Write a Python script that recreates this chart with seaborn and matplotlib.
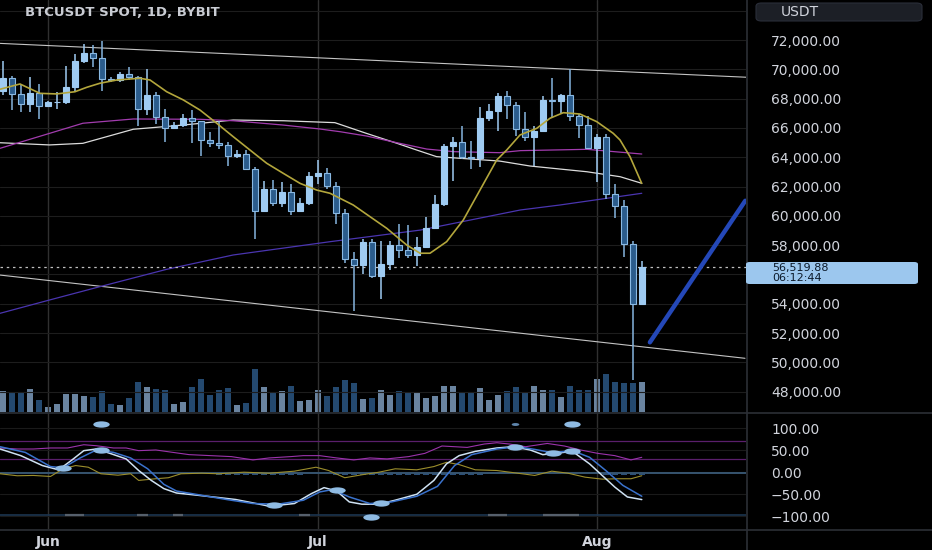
import numpy as np
import pandas as pd
import matplotlib
matplotlib.use("Agg")
import matplotlib.pyplot as plt
import seaborn as sns
from matplotlib.patches import FancyBboxPatch
from matplotlib.lines import Line2D
from matplotlib.path import Path
from matplotlib.transforms import Affine2D
from matplotlib.ticker import FuncFormatter, FixedLocator

# ------------------------------------------------------------------ data
dates = pd.date_range("2024-05-27", "2024-08-06", freq="D")
opens = [68500, 69400, 68300, 67600, 68350,
         67500, 67750, 67760, 68800, 70550, 71100, 70800, 69350, 69300, 69650,
         69500, 67300, 68250, 66750, 66000, 66200, 66650, 66500, 65150, 64950,
         64850, 64100, 64250, 63200, 60300, 61800, 60850, 61650, 60350, 60850,
         62700, 62900, 62050, 60200, 57050, 56650, 58200, 55900, 56700, 58000,
         57700, 57350, 57900, 59200, 60800, 64750, 65050, 64050, 63950, 66650,
         67150, 68150, 67550, 65950, 65400, 65800, 67900, 67850, 68250, 66800,
         66200, 64600, 65350, 61500, 60700, 58100, 54000]
highs = [70600, 69550, 68900, 69500, 69000,
         67850, 68450, 70250, 71050, 71750, 71650, 71950, 69500, 69850, 70150,
         69550, 70000, 68450, 67300, 66400, 66950, 67250, 66500, 65750, 66500,
         65050, 64500, 64500, 63350, 62400, 62450, 62300, 62200, 61200, 63000,
         63800, 63250, 62300, 60500, 57500, 58450, 58450, 58250, 58250, 59450,
         59400, 58550, 59900, 61400, 64900, 65350, 66100, 65100, 67400, 67600,
         68350, 68500, 67800, 67100, 66100, 68200, 69400, 68300, 70000, 66950,
         66800, 65600, 65600, 62200, 61100, 58300, 56900]
lows = [68250, 67200, 67100, 67100, 66600,
        67400, 67300, 67600, 68550, 70400, 70150, 68550, 69150, 69150, 69250,
        66100, 66900, 66300, 65050, 65900, 66050, 65000, 64100, 64700, 64550,
        63400, 63950, 63200, 58400, 60250, 60700, 60600, 60050, 60350, 60750,
        62200, 61850, 59450, 56800, 53500, 56050, 55750, 54300, 56300, 57150,
        57150, 56600, 57800, 59200, 60650, 62400, 63900, 63200, 63300, 66450,
        65800, 66600, 65450, 65100, 63400, 65750, 66650, 67050, 66500, 65300,
        64550, 62300, 61150, 59850, 57200, 48800, 53900]
closes = [69400, 68300, 67600, 68350, 67500,
          67750, 67760, 68800, 70550, 71100, 70800, 69350, 69300, 69650, 69500,
          67300, 68250, 66750, 66000, 66200, 66650, 66500, 65150, 64950, 64850,
          64100, 64250, 63200, 60300, 61800, 60850, 61650, 60350, 60850, 62700,
          62900, 62050, 60200, 57050, 56650, 58200, 55900, 56700, 58000, 57700,
          57350, 57900, 59200, 60800, 64750, 65050, 64050, 63950, 66650, 67150,
          68150, 67550, 65950, 65400, 65800, 67900, 67850, 68250, 66800, 66200,
          64600, 65350, 61500, 60700, 58100, 54000, 56519.88]
volumes = [20.7, 19.3, 20, 22.7, 11.7,
           4.7, 8, 18, 18.3, 16.3, 15.3, 20.7, 7.7, 6.7, 14,
           29.7, 25.3, 23.3, 22, 8.3, 10, 25.3, 33, 17.3, 22.3,
           24, 6.7, 9, 43, 24.7, 19.7, 21, 26, 10.7, 12,
           22, 15.7, 25, 31.7, 28.7, 13, 14, 22, 16.7, 20.7,
           20, 18.7, 13.7, 16.3, 26, 26, 20.3, 18.7, 24, 12.3,
           17.3, 20.7, 24.7, 20.3, 26, 21.7, 22.3, 15, 26.3, 22,
           21.7, 33.3, 38.3, 30, 28.7, 28.7, 30]
price_last = 56519.88
countdown = "06:12:44"

# moving averages (day offset from 1 Jun, price)
ma_fast_day = [-5.31, -3.09, -0.87, 0.99, 3.02, 4.32, 5.8, 7.66, 10.24, 11.36, 13.21, 15.06,
               16.91, 18.77, 20.61, 22.47, 24.32, 26.17, 28.02, 29.88, 31.36, 33.94, 37.66,
               39.88, 41.36, 42.47, 44.32, 46.17, 48.02, 49.88, 50.99, 52.47, 54.32, 55.8,
               57.28, 59.13, 60.99, 62.83, 63.58, 64.69, 65.99]
ma_fast_val = [68640, 69000, 68360, 68320, 68470, 68770, 69050, 69270, 69390, 69270, 68470,
               67910, 67220, 66320, 65400, 64490, 63590, 62900, 62220, 61760, 61540, 60740,
               59150, 58010, 57450, 57450, 58240, 59720, 61760, 63810, 64490, 65520, 65970,
               66660, 67040, 66950, 66430, 65630, 65180, 64040, 62220]
ma_mid_day = [-5.3, 0.2, 3.9, 9.5, 16.9, 20.6, 26.1, 30.2, 32.5, 35.4, 38.8, 42.1, 45.1, 50.2,
              52.5, 59.9, 66.0]
ma_mid_val = [64610, 65630, 66320, 66610, 66590, 66490, 66200, 65930, 65740, 65450, 64990,
              64560, 64380, 64310, 64450, 64540, 64220]
ma_slow_day = [-5.3, 0.2, 3.9, 9.5, 15.1, 20.6, 26.2, 31.9, 35.4, 38.8, 41.0, 43.2, 50.2, 53.6,
               59.9, 63.6, 66.0]
ma_slow_val = [64990, 64840, 64950, 65910, 66200, 66540, 66490, 66360, 65630, 64950, 64490,
               64040, 63740, 63400, 63010, 62670, 62220]
ma_long_day = [-5.3, 0.2, 5.8, 13.2, 20.6, 31.4, 41.4, 52.5, 56.9, 66.0]
ma_long_val = [53350, 54260, 55170, 56350, 57330, 58240, 59030, 60400, 60740, 61540]

# drawn trend lines
trend_upper_day = [-5.31, 77.58]
trend_upper_val = [71770, 69460]
trend_lower_day = [-5.31, 77.47]
trend_lower_val = [55960, 50280]
arrow_day = [66.9, 77.5]
arrow_val = [51370, 61030]

# oscillator pane
wt1_day = [-5.3, -3.0, -0.6, 1.2, 2.6, 4.0, 5.4, 6.9, 8.7, 10.1, 11.5, 12.9, 14.3, 16.7, 19.0,
           20.9, 22.8, 24.6, 27.4, 29.3, 30.7, 32.1, 33.5, 34.9, 36.8, 38.6, 41.0, 42.9, 44.3,
           45.7, 47.5, 49.9, 51.7, 53.6, 55.0, 56.4, 58.3, 60.2, 61.6, 63.0, 64.4, 66.0]
wt1_val = [52.7, 37.6, 15.1, 5.4, 26.4, 48.9, 52.7, 42.8, 30.2, 3.8, -18.7, -37.4, -47.3, -52.5,
           -57.7, -62.2, -69.8, -77.3, -71.2, -48.6, -35.1, -42.8, -67.6, -72.7, -72.7, -63.7,
           -50.2, -18.7, 18.9, 37.6, 47.3, 55.0, 57.9, 50.5, 39.9, 42.8, 47.3, 18.9, -7.4,
           -33.8, -56.3, -62.2]
wt2_day = [-5.3, -2.5, 0.3, 1.7, 3.6, 5.4, 7.3, 9.2, 11.1, 12.9, 14.3, 17.1, 19.9, 22.8, 25.6,
           28.4, 30.2, 31.6, 33.5, 35.8, 38.2, 41.0, 43.3, 45.2, 47.1, 49.9, 52.2, 54.1, 56.0,
           58.3, 60.2, 62.0, 63.9, 66.0]
wt2_val = [57.9, 45.0, 12.8, 9.9, 32.4, 50.5, 45.0, 32.4, 7.7, -27.7, -42.8, -52.5, -62.2,
           -71.2, -72.7, -63.7, -45.0, -39.6, -56.3, -71.2, -67.6, -54.7, -32.2, 15.1, 39.9,
           52.7, 57.9, 51.8, 44.4, 48.9, 33.8, 3.8, -30.0, -54.7]
rsi_day = [-5.3, -3.4, -1.6, 0.3, 2.2, 4.0, 5.4, 7.3, 8.7, 10.1, 12.0, 13.9, 15.7, 18.1, 20.4,
           22.8, 24.6, 27.0, 28.4, 30.2, 32.1, 34.0, 35.8, 37.7, 40.1, 41.9, 43.8, 45.2, 46.6,
           48.5, 49.9, 51.3, 53.1, 55.5, 57.4, 59.2, 61.1, 63.0, 64.8, 66.0]
rsi_val = [55, 52.7, 52.7, 55, 55, 62.4, 60.1, 55, 55, 48.9, 50.5, 45, 39.9, 37.6, 35.4, 27.9,
           32.4, 35.4, 37.6, 37.6, 32.4, 27.9, 32.4, 30.2, 35.4, 42.8, 59.5, 57.9, 56.3, 64.0,
           66.9, 64.0, 57.9, 65.3, 59.5, 50.5, 42.8, 37.6, 27.9, 33.8]
mom_day = [-5.3, -3.4, -1.6, 0.3, 1.7, 3.1, 4.5, 5.9, 7.8, 9.2, 10.1, 12.0, 13.4, 14.8, 17.1,
           19.0, 21.8, 24.6, 27.4, 29.8, 31.2, 33.0, 34.9, 36.8, 38.6, 41.0, 42.9, 44.3, 45.7,
           47.5, 49.9, 52.2, 54.1, 56.0, 57.8, 59.7, 61.6, 63.4, 64.8, 66.0]
mom_val = [-3.6, -8.1, -7.4, -9.7, 7.7, 15.1, 11.3, -3.6, -6.8, -3.6, -18.7, -14.9, -12.6,
           -3.6, -2.3, -3.6, 0.0, -2.3, 2.3, 11.3, 3.8, -12.6, -5.9, 0.0, 7.7, 5.4, 12.8, 22.5,
           17.3, 5.4, 3.8, -2.3, -7.4, 2.3, -2.3, -11.3, -15.8, -14.9, -14.9, -8.1]
hist_day = list(range(19, 29)) + list(range(32, 49)) + list(range(62, 67))
hist_val = [-5] * 10 + [-5] * 17 + [-5] * 5
cross_day = [1.7, 5.9, 25.1, 32.1, 37.0, 51.9, 56.1, 58.2]
cross_val = [9.9, 50.5, -75.0, -40.0, -71.0, 57.9, 44.0, 49.0]
signal_top_day = [5.9, 58.2]
signal_top_small_day = [51.9]
signal_bot_day = [35.9]
floor_dash_start = [1.9, 9.9, 13.9, 27.9, 48.9, 55.0]
floor_dash_end = [4.0, 11.1, 15.0, 29.1, 51.0, 59.0]

month_days = [0, 30, 61]
month_labels = ["Jun", "Jul", "Aug"]
price_ticks = [48000, 50000, 52000, 54000, 58000, 60000, 62000, 64000, 66000, 68000, 70000, 72000]
price_grid_only = [56000, 74000]
osc_ticks = [100, 50, 0, -50, -100]
band_levels = [70, 30]

# ------------------------------------------------------------------ style
sns.set_theme(style="dark", rc={
    "axes.facecolor": "#000000", "figure.facecolor": "#000000",
    "text.color": "#d1d4dc", "xtick.color": "#d1d4dc", "ytick.color": "#d1d4dc",
    "axes.edgecolor": "#000000"})
plt.rcParams["font.family"] = ["DejaVu Sans"]

day = np.array((dates - pd.Timestamp("2024-06-01")).days)
o = np.array(opens, float); c = np.array(closes, float)
h = np.array(highs, float); l = np.array(lows, float)
up = c >= o

W, H = 932, 550
fig = plt.figure(figsize=(W / 100, H / 100), dpi=100)
XL = (-5.31, 77.58)
price_rect = [0, 138 / H, 746 / W, 412 / H]
axv = fig.add_axes(price_rect, zorder=0)
ax = fig.add_axes(price_rect, zorder=1)
axo = fig.add_axes([0, 21 / H, 746 / W, 116 / H], zorder=1)
ax.patch.set_alpha(0)

for a in (ax, axv, axo):
    a.set_xlim(*XL)
    for s in a.spines.values():
        s.set_visible(False)

# volume
axv.set_ylim(0, 412)
axv.bar(day, volumes, width=0.72, color=np.where(up, "#6a84a0", "#24496f"), linewidth=0)
axv.set_xticks([]); axv.set_yticks([])

# price pane
ax.set_ylim(46615, 74730)
ax.set_xticks(month_days)
ax.tick_params(axis="x", length=0, labelbottom=False)
ax.yaxis.tick_right()
ax.set_yticks(price_ticks)
ax.yaxis.set_minor_locator(FixedLocator(price_grid_only))
ax.yaxis.set_major_formatter(FuncFormatter(lambda v, _: f"{v:,.2f}"))
ax.tick_params(axis="y", which="both", length=0, pad=18, labelsize=10, labelcolor="#d1d4dc")
ax.tick_params(axis="y", which="minor", labelright=False)
ax.grid(axis="y", which="both", color="#1d1d1d", lw=0.8)
ax.grid(axis="x", color="#303030", lw=1.0)
ax.set_axisbelow(True)

for lo, hi in [(trend_upper_day, trend_upper_val), (trend_lower_day, trend_lower_val)]:
    sns.lineplot(x=lo, y=hi, ax=ax, color="#c4c4c4", lw=0.8, estimator=None, legend=False)
sns.lineplot(x=ma_long_day, y=ma_long_val, ax=ax, color="#4a35b0", lw=0.9, estimator=None, legend=False)
sns.lineplot(x=ma_slow_day, y=ma_slow_val, ax=ax, color="#dcdcdc", lw=0.9, estimator=None, legend=False)
sns.lineplot(x=ma_mid_day, y=ma_mid_val, ax=ax, color="#a23cae", lw=0.9, estimator=None, legend=False)
ax.axhline(price_last, color="#bfbfbf", lw=0.9, ls=(0, (2, 3)))

wick_col = np.where(up, "#9fcbf2", "#86b5df")
ax.vlines(day, l, h, colors=wick_col, lw=1.1, zorder=3)
body = c - o
ax.bar(day, np.where(np.abs(body) < 1, 1, body), bottom=o, width=0.68,
       color=np.where(up, "#9fcbf2", "#2b5c8c"), edgecolor=np.where(up, "#9fcbf2", "#8ab9e3"),
       linewidth=0.8, zorder=4)
sns.lineplot(x=ma_fast_day, y=ma_fast_val, ax=ax, color="#b3a63c", lw=1.2, estimator=None,
             legend=False, zorder=5)
ax.plot(arrow_day, arrow_val, color="#2448b8", lw=3.2, solid_capstyle="round", zorder=6)
ax.set_xlabel(""); ax.set_ylabel("")

# oscillator pane
axo.set_ylim(-129.1, 134.5)
axo.yaxis.tick_right()
axo.set_yticks(osc_ticks)
axo.yaxis.set_major_formatter(FuncFormatter(lambda v, _: f"{v:.2f}".replace("-", "\u2212")))
axo.tick_params(axis="y", length=0, pad=18, labelsize=10, labelcolor="#d1d4dc")
axo.set_xticks(month_days)
axo.set_xticklabels(month_labels, fontsize=10, fontweight="bold", color="#d1d4dc")
axo.tick_params(axis="x", length=0, pad=4)
axo.grid(axis="y", color="#1a1a1a", lw=0.8)
axo.grid(axis="x", color="#303030", lw=1.0)
axo.set_axisbelow(True)
for lv in band_levels:
    axo.axhline(lv, color="#5a1f6c", lw=0.9)
axo.axhline(-2, color="#36546f", lw=1.4)
axo.axhline(-98, color="#1c3550", lw=1.2)
axo.hlines([-98] * len(floor_dash_start), floor_dash_start, floor_dash_end, colors="#56606c", lw=1.6)
axo.bar(hist_day, hist_val, bottom=-2, width=0.7, color="#2a4f78", linewidth=0)
sns.lineplot(x=rsi_day, y=rsi_val, ax=axo, color="#9b33ab", lw=0.8, estimator=None, legend=False)
sns.lineplot(x=mom_day, y=mom_val, ax=axo, color="#9c8e2c", lw=0.8, estimator=None, legend=False)
sns.lineplot(x=wt1_day, y=wt1_val, ax=axo, color="#cfe2f3", lw=1.1, estimator=None, legend=False)
sns.lineplot(x=wt2_day, y=wt2_val, ax=axo, color="#3a72cc", lw=1.1, estimator=None, legend=False)
ell = Path.unit_circle().transformed(Affine2D().scale(2.6, 1.0))
sns.scatterplot(x=cross_day, y=cross_val, ax=axo, marker=ell, s=140, color="#8fbbe3",
                linewidth=0, legend=False, zorder=6)
sns.scatterplot(x=signal_top_day, y=[110] * len(signal_top_day), ax=axo, marker=ell, s=140,
                color="#8fbbe3", linewidth=0, legend=False, zorder=6)
sns.scatterplot(x=signal_top_small_day, y=[110], ax=axo, marker=ell, s=30,
                color="#5f86ad", linewidth=0, legend=False, zorder=6)
sns.scatterplot(x=signal_bot_day, y=[-101], ax=axo, marker=ell, s=140,
                color="#8fbbe3", linewidth=0, legend=False, zorder=6)
axo.set_xlabel(""); axo.set_ylabel("")

# separators
sep = "#2c2f36"
fig.add_artist(Line2D([747 / W, 747 / W], [0, 1], color=sep, lw=1.2, zorder=4))
for yy in (412.5, 529.5):
    fig.add_artist(Line2D([0, 1], [1 - yy / H, 1 - yy / H], color=sep, lw=1.2, zorder=4))

# header and right-side boxes
fig.text(25 / W, 1 - 13 / H, "BTCUSDT SPOT, 1D, BYBIT", fontsize=9.5, fontweight="bold",
         color="#c9ccd3", va="center", ha="left", zorder=7)
fig.add_artist(FancyBboxPatch((756 / W, 1 - 21 / H), 166 / W, 18 / H,
                              boxstyle="round,pad=0,rounding_size=0.006",
                              transform=fig.transFigure, fc="#1c1f26", ec="#2a2e39",
                              lw=0.8, zorder=6))
fig.text(781 / W, 1 - 12 / H, "USDT", fontsize=10, color="#d1d4dc", va="center",
         ha="left", zorder=7)
fig.add_artist(FancyBboxPatch((746 / W, 1 - 284 / H), 172 / W, 22 / H,
                              boxstyle="round,pad=0,rounding_size=0.004",
                              transform=fig.transFigure, fc="#9cc7ee", ec="none", zorder=6))
fig.text(772 / W, 1 - 273 / H, f"{price_last:,.2f}\n{countdown}", fontsize=8,
         linespacing=0.95, color="#0c1a2a", va="center", ha="left", zorder=7)

fig.savefig("out.png", dpi=100, facecolor="#000000")
